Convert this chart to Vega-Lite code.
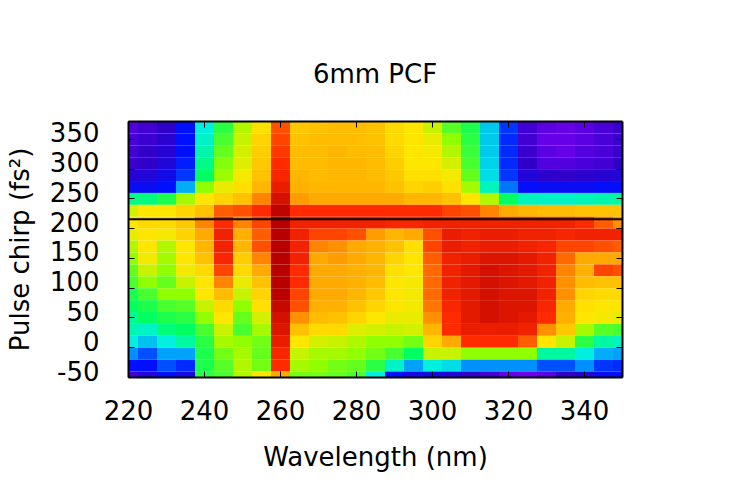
{
  "$schema": "https://vega.github.io/schema/vega-lite/v6.json",
  "width": 494,
  "height": 256,
  "autosize": {"type": "none"},
  "padding": {"left": 128, "top": 121, "right": 128, "bottom": 123},
  "background": "white",
  "config": {"view": {"stroke": null}, "font": "DejaVu Sans"},
  "title": {"text": "6mm PCF", "font": "DejaVu Sans", "fontSize": 26, "fontWeight": "normal", "color": "black", "anchor": "middle", "offset": 33},
  "layer": [
    {
      "data": {"values": [
        {"nm":217.5,"fs2":360,"z":0.6},{"nm":222.5,"fs2":360,"z":0.8},{"nm":227.5,"fs2":360,"z":1.0},{"nm":232.5,"fs2":360,"z":2.0},{"nm":237.5,"fs2":360,"z":4.0},{"nm":242.5,"fs2":360,"z":5.3},{"nm":247.5,"fs2":360,"z":6.3},{"nm":252.5,"fs2":360,"z":7.1},{"nm":257.5,"fs2":360,"z":8.7},{"nm":262.5,"fs2":360,"z":7.5},{"nm":267.5,"fs2":360,"z":7.6},{"nm":272.5,"fs2":360,"z":7.7},{"nm":277.5,"fs2":360,"z":7.7},{"nm":282.5,"fs2":360,"z":7.6},{"nm":287.5,"fs2":360,"z":7.2},{"nm":292.5,"fs2":360,"z":7.0},{"nm":297.5,"fs2":360,"z":6.5},{"nm":302.5,"fs2":360,"z":5.6},{"nm":307.5,"fs2":360,"z":5.2},{"nm":312.5,"fs2":360,"z":3.6},{"nm":317.5,"fs2":360,"z":2.3},{"nm":322.5,"fs2":360,"z":0.8},{"nm":327.5,"fs2":360,"z":0.5},{"nm":332.5,"fs2":360,"z":0.4},{"nm":337.5,"fs2":360,"z":0.5},{"nm":342.5,"fs2":360,"z":0.7},{"nm":347.5,"fs2":360,"z":0.9},
        {"nm":217.5,"fs2":340,"z":0.7},{"nm":222.5,"fs2":340,"z":0.9},{"nm":227.5,"fs2":340,"z":1.1},{"nm":232.5,"fs2":340,"z":2.0},{"nm":237.5,"fs2":340,"z":4.2},{"nm":242.5,"fs2":340,"z":5.5},{"nm":247.5,"fs2":340,"z":6.5},{"nm":252.5,"fs2":340,"z":7.3},{"nm":257.5,"fs2":340,"z":8.8},{"nm":262.5,"fs2":340,"z":7.6},{"nm":267.5,"fs2":340,"z":7.7},{"nm":272.5,"fs2":340,"z":7.7},{"nm":277.5,"fs2":340,"z":7.7},{"nm":282.5,"fs2":340,"z":7.6},{"nm":287.5,"fs2":340,"z":7.2},{"nm":292.5,"fs2":340,"z":7.0},{"nm":297.5,"fs2":340,"z":6.8},{"nm":302.5,"fs2":340,"z":6.0},{"nm":307.5,"fs2":340,"z":5.3},{"nm":312.5,"fs2":340,"z":3.6},{"nm":317.5,"fs2":340,"z":2.2},{"nm":322.5,"fs2":340,"z":0.8},{"nm":327.5,"fs2":340,"z":0.4},{"nm":332.5,"fs2":340,"z":0.4},{"nm":337.5,"fs2":340,"z":0.5},{"nm":342.5,"fs2":340,"z":0.7},{"nm":347.5,"fs2":340,"z":0.9},
        {"nm":217.5,"fs2":320,"z":0.8},{"nm":222.5,"fs2":320,"z":1.0},{"nm":227.5,"fs2":320,"z":1.2},{"nm":232.5,"fs2":320,"z":2.0},{"nm":237.5,"fs2":320,"z":4.4},{"nm":242.5,"fs2":320,"z":5.7},{"nm":247.5,"fs2":320,"z":6.6},{"nm":252.5,"fs2":320,"z":7.4},{"nm":257.5,"fs2":320,"z":8.9},{"nm":262.5,"fs2":320,"z":7.7},{"nm":267.5,"fs2":320,"z":7.7},{"nm":272.5,"fs2":320,"z":7.8},{"nm":277.5,"fs2":320,"z":7.7},{"nm":282.5,"fs2":320,"z":7.7},{"nm":287.5,"fs2":320,"z":7.3},{"nm":292.5,"fs2":320,"z":7.0},{"nm":297.5,"fs2":320,"z":6.9},{"nm":302.5,"fs2":320,"z":6.3},{"nm":307.5,"fs2":320,"z":5.4},{"nm":312.5,"fs2":320,"z":3.6},{"nm":317.5,"fs2":320,"z":2.2},{"nm":322.5,"fs2":320,"z":0.9},{"nm":327.5,"fs2":320,"z":0.5},{"nm":332.5,"fs2":320,"z":0.4},{"nm":337.5,"fs2":320,"z":0.6},{"nm":342.5,"fs2":320,"z":0.7},{"nm":347.5,"fs2":320,"z":0.9},
        {"nm":217.5,"fs2":300,"z":0.9},{"nm":222.5,"fs2":300,"z":1.0},{"nm":227.5,"fs2":300,"z":1.3},{"nm":232.5,"fs2":300,"z":2.1},{"nm":237.5,"fs2":300,"z":4.7},{"nm":242.5,"fs2":300,"z":5.9},{"nm":247.5,"fs2":300,"z":6.7},{"nm":252.5,"fs2":300,"z":7.5},{"nm":257.5,"fs2":300,"z":9.0},{"nm":262.5,"fs2":300,"z":7.7},{"nm":267.5,"fs2":300,"z":7.7},{"nm":272.5,"fs2":300,"z":7.8},{"nm":277.5,"fs2":300,"z":7.8},{"nm":282.5,"fs2":300,"z":7.7},{"nm":287.5,"fs2":300,"z":7.4},{"nm":292.5,"fs2":300,"z":7.0},{"nm":297.5,"fs2":300,"z":7.0},{"nm":302.5,"fs2":300,"z":6.6},{"nm":307.5,"fs2":300,"z":5.5},{"nm":312.5,"fs2":300,"z":3.7},{"nm":317.5,"fs2":300,"z":2.2},{"nm":322.5,"fs2":300,"z":1.0},{"nm":327.5,"fs2":300,"z":0.6},{"nm":332.5,"fs2":300,"z":0.6},{"nm":337.5,"fs2":300,"z":0.7},{"nm":342.5,"fs2":300,"z":0.8},{"nm":347.5,"fs2":300,"z":1.0},
        {"nm":217.5,"fs2":280,"z":1.2},{"nm":222.5,"fs2":280,"z":1.3},{"nm":227.5,"fs2":280,"z":1.6},{"nm":232.5,"fs2":280,"z":2.3},{"nm":237.5,"fs2":280,"z":5.0},{"nm":242.5,"fs2":280,"z":6.1},{"nm":247.5,"fs2":280,"z":6.9},{"nm":252.5,"fs2":280,"z":7.6},{"nm":257.5,"fs2":280,"z":9.1},{"nm":262.5,"fs2":280,"z":7.8},{"nm":267.5,"fs2":280,"z":7.7},{"nm":272.5,"fs2":280,"z":7.8},{"nm":277.5,"fs2":280,"z":7.8},{"nm":282.5,"fs2":280,"z":7.7},{"nm":287.5,"fs2":280,"z":7.5},{"nm":292.5,"fs2":280,"z":7.1},{"nm":297.5,"fs2":280,"z":7.1},{"nm":302.5,"fs2":280,"z":6.9},{"nm":307.5,"fs2":280,"z":5.7},{"nm":312.5,"fs2":280,"z":3.8},{"nm":317.5,"fs2":280,"z":2.3},{"nm":322.5,"fs2":280,"z":1.3},{"nm":327.5,"fs2":280,"z":1.1},{"nm":332.5,"fs2":280,"z":1.0},{"nm":337.5,"fs2":280,"z":1.1},{"nm":342.5,"fs2":280,"z":1.2},{"nm":347.5,"fs2":280,"z":1.3},
        {"nm":217.5,"fs2":260,"z":1.8},{"nm":222.5,"fs2":260,"z":1.8},{"nm":227.5,"fs2":260,"z":2.0},{"nm":232.5,"fs2":260,"z":3.3},{"nm":237.5,"fs2":260,"z":6.0},{"nm":242.5,"fs2":260,"z":6.8},{"nm":247.5,"fs2":260,"z":7.1},{"nm":252.5,"fs2":260,"z":7.8},{"nm":257.5,"fs2":260,"z":9.3},{"nm":262.5,"fs2":260,"z":7.9},{"nm":267.5,"fs2":260,"z":7.8},{"nm":272.5,"fs2":260,"z":7.8},{"nm":277.5,"fs2":260,"z":7.8},{"nm":282.5,"fs2":260,"z":7.8},{"nm":287.5,"fs2":260,"z":7.6},{"nm":292.5,"fs2":260,"z":7.3},{"nm":297.5,"fs2":260,"z":7.4},{"nm":302.5,"fs2":260,"z":7.1},{"nm":307.5,"fs2":260,"z":6.2},{"nm":312.5,"fs2":260,"z":4.3},{"nm":317.5,"fs2":260,"z":2.8},{"nm":322.5,"fs2":260,"z":1.9},{"nm":327.5,"fs2":260,"z":1.8},{"nm":332.5,"fs2":260,"z":1.8},{"nm":337.5,"fs2":260,"z":1.8},{"nm":342.5,"fs2":260,"z":1.9},{"nm":347.5,"fs2":260,"z":1.9},
        {"nm":217.5,"fs2":240,"z":4.7},{"nm":222.5,"fs2":240,"z":4.8},{"nm":227.5,"fs2":240,"z":5.2},{"nm":232.5,"fs2":240,"z":6.2},{"nm":237.5,"fs2":240,"z":7.0},{"nm":242.5,"fs2":240,"z":7.3},{"nm":247.5,"fs2":240,"z":7.6},{"nm":252.5,"fs2":240,"z":8.3},{"nm":257.5,"fs2":240,"z":9.6},{"nm":262.5,"fs2":240,"z":8.1},{"nm":267.5,"fs2":240,"z":8.0},{"nm":272.5,"fs2":240,"z":8.0},{"nm":277.5,"fs2":240,"z":8.0},{"nm":282.5,"fs2":240,"z":8.0},{"nm":287.5,"fs2":240,"z":8.0},{"nm":292.5,"fs2":240,"z":7.8},{"nm":297.5,"fs2":240,"z":7.8},{"nm":302.5,"fs2":240,"z":7.6},{"nm":307.5,"fs2":240,"z":7.0},{"nm":312.5,"fs2":240,"z":6.3},{"nm":317.5,"fs2":240,"z":5.0},{"nm":322.5,"fs2":240,"z":4.3},{"nm":327.5,"fs2":240,"z":4.2},{"nm":332.5,"fs2":240,"z":4.2},{"nm":337.5,"fs2":240,"z":4.3},{"nm":342.5,"fs2":240,"z":4.4},{"nm":347.5,"fs2":240,"z":4.5},
        {"nm":217.5,"fs2":220,"z":6.6},{"nm":222.5,"fs2":220,"z":7.0},{"nm":227.5,"fs2":220,"z":7.0},{"nm":232.5,"fs2":220,"z":7.3},{"nm":237.5,"fs2":220,"z":7.6},{"nm":242.5,"fs2":220,"z":8.6},{"nm":247.5,"fs2":220,"z":8.7},{"nm":252.5,"fs2":220,"z":9.0},{"nm":257.5,"fs2":220,"z":9.9},{"nm":262.5,"fs2":220,"z":9.0},{"nm":267.5,"fs2":220,"z":9.0},{"nm":272.5,"fs2":220,"z":9.0},{"nm":277.5,"fs2":220,"z":9.0},{"nm":282.5,"fs2":220,"z":9.0},{"nm":287.5,"fs2":220,"z":9.0},{"nm":292.5,"fs2":220,"z":9.0},{"nm":297.5,"fs2":220,"z":9.0},{"nm":302.5,"fs2":220,"z":8.8},{"nm":307.5,"fs2":220,"z":8.7},{"nm":312.5,"fs2":220,"z":8.3},{"nm":317.5,"fs2":220,"z":8.0},{"nm":322.5,"fs2":220,"z":7.8},{"nm":327.5,"fs2":220,"z":7.7},{"nm":332.5,"fs2":220,"z":7.7},{"nm":337.5,"fs2":220,"z":7.6},{"nm":342.5,"fs2":220,"z":7.6},{"nm":347.5,"fs2":220,"z":7.6},
        {"nm":217.5,"fs2":200,"z":7.0},{"nm":222.5,"fs2":200,"z":7.2},{"nm":227.5,"fs2":200,"z":7.2},{"nm":232.5,"fs2":200,"z":7.5},{"nm":237.5,"fs2":200,"z":8.3},{"nm":242.5,"fs2":200,"z":9.0},{"nm":247.5,"fs2":200,"z":8.3},{"nm":252.5,"fs2":200,"z":8.8},{"nm":257.5,"fs2":200,"z":10},{"nm":262.5,"fs2":200,"z":9.2},{"nm":267.5,"fs2":200,"z":9.2},{"nm":272.5,"fs2":200,"z":9.2},{"nm":277.5,"fs2":200,"z":9.2},{"nm":282.5,"fs2":200,"z":9.2},{"nm":287.5,"fs2":200,"z":9.1},{"nm":292.5,"fs2":200,"z":9.1},{"nm":297.5,"fs2":200,"z":9.2},{"nm":302.5,"fs2":200,"z":9.2},{"nm":307.5,"fs2":200,"z":9.2},{"nm":312.5,"fs2":200,"z":9.2},{"nm":317.5,"fs2":200,"z":9.2},{"nm":322.5,"fs2":200,"z":9.2},{"nm":327.5,"fs2":200,"z":9.2},{"nm":332.5,"fs2":200,"z":9.2},{"nm":337.5,"fs2":200,"z":9.0},{"nm":342.5,"fs2":200,"z":8.6},{"nm":347.5,"fs2":200,"z":8.2},
        {"nm":217.5,"fs2":180,"z":6.8},{"nm":222.5,"fs2":180,"z":7.0},{"nm":227.5,"fs2":180,"z":6.9},{"nm":232.5,"fs2":180,"z":7.3},{"nm":237.5,"fs2":180,"z":8.0},{"nm":242.5,"fs2":180,"z":9.2},{"nm":247.5,"fs2":180,"z":7.9},{"nm":252.5,"fs2":180,"z":8.6},{"nm":257.5,"fs2":180,"z":10},{"nm":262.5,"fs2":180,"z":9.2},{"nm":267.5,"fs2":180,"z":8.8},{"nm":272.5,"fs2":180,"z":8.8},{"nm":277.5,"fs2":180,"z":8.7},{"nm":282.5,"fs2":180,"z":8.1},{"nm":287.5,"fs2":180,"z":7.8},{"nm":292.5,"fs2":180,"z":8.0},{"nm":297.5,"fs2":180,"z":8.7},{"nm":302.5,"fs2":180,"z":9.3},{"nm":307.5,"fs2":180,"z":9.2},{"nm":312.5,"fs2":180,"z":9.3},{"nm":317.5,"fs2":180,"z":9.3},{"nm":322.5,"fs2":180,"z":9.2},{"nm":327.5,"fs2":180,"z":9.2},{"nm":332.5,"fs2":180,"z":9.1},{"nm":337.5,"fs2":180,"z":9.2},{"nm":342.5,"fs2":180,"z":9.2},{"nm":347.5,"fs2":180,"z":9.2},
        {"nm":217.5,"fs2":160,"z":6.3},{"nm":222.5,"fs2":160,"z":7.0},{"nm":227.5,"fs2":160,"z":6.3},{"nm":232.5,"fs2":160,"z":7.0},{"nm":237.5,"fs2":160,"z":7.8},{"nm":242.5,"fs2":160,"z":9.2},{"nm":247.5,"fs2":160,"z":7.8},{"nm":252.5,"fs2":160,"z":8.7},{"nm":257.5,"fs2":160,"z":10},{"nm":262.5,"fs2":160,"z":9.2},{"nm":267.5,"fs2":160,"z":8.3},{"nm":272.5,"fs2":160,"z":8.2},{"nm":277.5,"fs2":160,"z":8.0},{"nm":282.5,"fs2":160,"z":7.9},{"nm":287.5,"fs2":160,"z":7.6},{"nm":292.5,"fs2":160,"z":7.1},{"nm":297.5,"fs2":160,"z":8.8},{"nm":302.5,"fs2":160,"z":9.3},{"nm":307.5,"fs2":160,"z":9.2},{"nm":312.5,"fs2":160,"z":9.3},{"nm":317.5,"fs2":160,"z":9.3},{"nm":322.5,"fs2":160,"z":9.2},{"nm":327.5,"fs2":160,"z":9.1},{"nm":332.5,"fs2":160,"z":8.8},{"nm":337.5,"fs2":160,"z":8.8},{"nm":342.5,"fs2":160,"z":8.7},{"nm":347.5,"fs2":160,"z":8.6},
        {"nm":217.5,"fs2":140,"z":6.0},{"nm":222.5,"fs2":140,"z":6.9},{"nm":227.5,"fs2":140,"z":6.2},{"nm":232.5,"fs2":140,"z":7.0},{"nm":237.5,"fs2":140,"z":7.6},{"nm":242.5,"fs2":140,"z":9.1},{"nm":247.5,"fs2":140,"z":7.4},{"nm":252.5,"fs2":140,"z":8.3},{"nm":257.5,"fs2":140,"z":10},{"nm":262.5,"fs2":140,"z":9.2},{"nm":267.5,"fs2":140,"z":8.0},{"nm":272.5,"fs2":140,"z":8.1},{"nm":277.5,"fs2":140,"z":8.0},{"nm":282.5,"fs2":140,"z":7.8},{"nm":287.5,"fs2":140,"z":7.3},{"nm":292.5,"fs2":140,"z":7.0},{"nm":297.5,"fs2":140,"z":8.6},{"nm":302.5,"fs2":140,"z":9.2},{"nm":307.5,"fs2":140,"z":9.3},{"nm":312.5,"fs2":140,"z":9.5},{"nm":317.5,"fs2":140,"z":9.5},{"nm":322.5,"fs2":140,"z":9.4},{"nm":327.5,"fs2":140,"z":9.2},{"nm":332.5,"fs2":140,"z":8.5},{"nm":337.5,"fs2":140,"z":8.0},{"nm":342.5,"fs2":140,"z":8.0},{"nm":347.5,"fs2":140,"z":8.0},
        {"nm":217.5,"fs2":120,"z":5.7},{"nm":222.5,"fs2":120,"z":6.5},{"nm":227.5,"fs2":120,"z":6.0},{"nm":232.5,"fs2":120,"z":6.9},{"nm":237.5,"fs2":120,"z":7.2},{"nm":242.5,"fs2":120,"z":8.8},{"nm":247.5,"fs2":120,"z":7.2},{"nm":252.5,"fs2":120,"z":8.0},{"nm":257.5,"fs2":120,"z":10},{"nm":262.5,"fs2":120,"z":9.0},{"nm":267.5,"fs2":120,"z":8.0},{"nm":272.5,"fs2":120,"z":8.0},{"nm":277.5,"fs2":120,"z":7.9},{"nm":282.5,"fs2":120,"z":7.8},{"nm":287.5,"fs2":120,"z":7.1},{"nm":292.5,"fs2":120,"z":7.0},{"nm":297.5,"fs2":120,"z":8.5},{"nm":302.5,"fs2":120,"z":9.2},{"nm":307.5,"fs2":120,"z":9.4},{"nm":312.5,"fs2":120,"z":9.6},{"nm":317.5,"fs2":120,"z":9.5},{"nm":322.5,"fs2":120,"z":9.4},{"nm":327.5,"fs2":120,"z":9.2},{"nm":332.5,"fs2":120,"z":8.3},{"nm":337.5,"fs2":120,"z":7.9},{"nm":342.5,"fs2":120,"z":8.8},{"nm":347.5,"fs2":120,"z":8.7},
        {"nm":217.5,"fs2":100,"z":5.5},{"nm":222.5,"fs2":100,"z":6.0},{"nm":227.5,"fs2":100,"z":5.7},{"nm":232.5,"fs2":100,"z":6.5},{"nm":237.5,"fs2":100,"z":7.0},{"nm":242.5,"fs2":100,"z":8.3},{"nm":247.5,"fs2":100,"z":6.8},{"nm":252.5,"fs2":100,"z":7.6},{"nm":257.5,"fs2":100,"z":10},{"nm":262.5,"fs2":100,"z":9.0},{"nm":267.5,"fs2":100,"z":8.0},{"nm":272.5,"fs2":100,"z":8.0},{"nm":277.5,"fs2":100,"z":7.9},{"nm":282.5,"fs2":100,"z":7.7},{"nm":287.5,"fs2":100,"z":7.0},{"nm":292.5,"fs2":100,"z":6.9},{"nm":297.5,"fs2":100,"z":8.5},{"nm":302.5,"fs2":100,"z":9.2},{"nm":307.5,"fs2":100,"z":9.4},{"nm":312.5,"fs2":100,"z":9.6},{"nm":317.5,"fs2":100,"z":9.5},{"nm":322.5,"fs2":100,"z":9.4},{"nm":327.5,"fs2":100,"z":9.2},{"nm":332.5,"fs2":100,"z":8.2},{"nm":337.5,"fs2":100,"z":7.7},{"nm":342.5,"fs2":100,"z":7.6},{"nm":347.5,"fs2":100,"z":7.6},
        {"nm":217.5,"fs2":80,"z":5.2},{"nm":222.5,"fs2":80,"z":5.5},{"nm":227.5,"fs2":80,"z":6.0},{"nm":232.5,"fs2":80,"z":6.0},{"nm":237.5,"fs2":80,"z":7.0},{"nm":242.5,"fs2":80,"z":7.7},{"nm":247.5,"fs2":80,"z":6.5},{"nm":252.5,"fs2":80,"z":7.3},{"nm":257.5,"fs2":80,"z":10},{"nm":262.5,"fs2":80,"z":8.8},{"nm":267.5,"fs2":80,"z":8.0},{"nm":272.5,"fs2":80,"z":8.0},{"nm":277.5,"fs2":80,"z":7.8},{"nm":282.5,"fs2":80,"z":7.5},{"nm":287.5,"fs2":80,"z":7.0},{"nm":292.5,"fs2":80,"z":6.9},{"nm":297.5,"fs2":80,"z":8.5},{"nm":302.5,"fs2":80,"z":9.2},{"nm":307.5,"fs2":80,"z":9.4},{"nm":312.5,"fs2":80,"z":9.6},{"nm":317.5,"fs2":80,"z":9.5},{"nm":322.5,"fs2":80,"z":9.5},{"nm":327.5,"fs2":80,"z":9.2},{"nm":332.5,"fs2":80,"z":8.2},{"nm":337.5,"fs2":80,"z":7.3},{"nm":342.5,"fs2":80,"z":7.2},{"nm":347.5,"fs2":80,"z":7.2},
        {"nm":217.5,"fs2":60,"z":5.0},{"nm":222.5,"fs2":60,"z":5.2},{"nm":227.5,"fs2":60,"z":5.5},{"nm":232.5,"fs2":60,"z":5.6},{"nm":237.5,"fs2":60,"z":6.5},{"nm":242.5,"fs2":60,"z":7.2},{"nm":247.5,"fs2":60,"z":6.0},{"nm":252.5,"fs2":60,"z":7.1},{"nm":257.5,"fs2":60,"z":9.8},{"nm":262.5,"fs2":60,"z":8.7},{"nm":267.5,"fs2":60,"z":7.9},{"nm":272.5,"fs2":60,"z":7.9},{"nm":277.5,"fs2":60,"z":7.6},{"nm":282.5,"fs2":60,"z":7.3},{"nm":287.5,"fs2":60,"z":7.0},{"nm":292.5,"fs2":60,"z":6.9},{"nm":297.5,"fs2":60,"z":8.4},{"nm":302.5,"fs2":60,"z":9.1},{"nm":307.5,"fs2":60,"z":9.4},{"nm":312.5,"fs2":60,"z":9.6},{"nm":317.5,"fs2":60,"z":9.5},{"nm":322.5,"fs2":60,"z":9.5},{"nm":327.5,"fs2":60,"z":9.1},{"nm":332.5,"fs2":60,"z":8.0},{"nm":337.5,"fs2":60,"z":7.1},{"nm":342.5,"fs2":60,"z":7.0},{"nm":347.5,"fs2":60,"z":7.0},
        {"nm":217.5,"fs2":40,"z":4.6},{"nm":222.5,"fs2":40,"z":5.0},{"nm":227.5,"fs2":40,"z":5.2},{"nm":232.5,"fs2":40,"z":5.3},{"nm":237.5,"fs2":40,"z":6.0},{"nm":242.5,"fs2":40,"z":7.0},{"nm":247.5,"fs2":40,"z":5.7},{"nm":252.5,"fs2":40,"z":6.6},{"nm":257.5,"fs2":40,"z":9.6},{"nm":262.5,"fs2":40,"z":8.2},{"nm":267.5,"fs2":40,"z":7.7},{"nm":272.5,"fs2":40,"z":7.6},{"nm":277.5,"fs2":40,"z":7.3},{"nm":282.5,"fs2":40,"z":7.0},{"nm":287.5,"fs2":40,"z":6.8},{"nm":292.5,"fs2":40,"z":6.8},{"nm":297.5,"fs2":40,"z":8.2},{"nm":302.5,"fs2":40,"z":9.0},{"nm":307.5,"fs2":40,"z":9.4},{"nm":312.5,"fs2":40,"z":9.6},{"nm":317.5,"fs2":40,"z":9.5},{"nm":322.5,"fs2":40,"z":9.4},{"nm":327.5,"fs2":40,"z":9.0},{"nm":332.5,"fs2":40,"z":7.9},{"nm":337.5,"fs2":40,"z":7.0},{"nm":342.5,"fs2":40,"z":6.9},{"nm":347.5,"fs2":40,"z":6.8},
        {"nm":217.5,"fs2":20,"z":4.4},{"nm":222.5,"fs2":20,"z":4.2},{"nm":227.5,"fs2":20,"z":4.8},{"nm":232.5,"fs2":20,"z":5.0},{"nm":237.5,"fs2":20,"z":5.5},{"nm":242.5,"fs2":20,"z":6.5},{"nm":247.5,"fs2":20,"z":5.5},{"nm":252.5,"fs2":20,"z":6.2},{"nm":257.5,"fs2":20,"z":9.5},{"nm":262.5,"fs2":20,"z":7.6},{"nm":267.5,"fs2":20,"z":7.2},{"nm":272.5,"fs2":20,"z":7.2},{"nm":277.5,"fs2":20,"z":6.7},{"nm":282.5,"fs2":20,"z":6.6},{"nm":287.5,"fs2":20,"z":6.5},{"nm":292.5,"fs2":20,"z":6.6},{"nm":297.5,"fs2":20,"z":7.8},{"nm":302.5,"fs2":20,"z":9.0},{"nm":307.5,"fs2":20,"z":9.3},{"nm":312.5,"fs2":20,"z":9.3},{"nm":317.5,"fs2":20,"z":9.3},{"nm":322.5,"fs2":20,"z":9.2},{"nm":327.5,"fs2":20,"z":8.2},{"nm":332.5,"fs2":20,"z":7.5},{"nm":337.5,"fs2":20,"z":6.2},{"nm":342.5,"fs2":20,"z":5.6},{"nm":347.5,"fs2":20,"z":5.5},
        {"nm":217.5,"fs2":0,"z":4.0},{"nm":222.5,"fs2":0,"z":3.5},{"nm":227.5,"fs2":0,"z":4.0},{"nm":232.5,"fs2":0,"z":4.5},{"nm":237.5,"fs2":0,"z":5.3},{"nm":242.5,"fs2":0,"z":6.2},{"nm":247.5,"fs2":0,"z":6.0},{"nm":252.5,"fs2":0,"z":5.8},{"nm":257.5,"fs2":0,"z":9.3},{"nm":262.5,"fs2":0,"z":7.0},{"nm":267.5,"fs2":0,"z":6.6},{"nm":272.5,"fs2":0,"z":6.5},{"nm":277.5,"fs2":0,"z":6.3},{"nm":282.5,"fs2":0,"z":6.0},{"nm":287.5,"fs2":0,"z":6.0},{"nm":292.5,"fs2":0,"z":5.8},{"nm":297.5,"fs2":0,"z":7.3},{"nm":302.5,"fs2":0,"z":8.0},{"nm":307.5,"fs2":0,"z":9.0},{"nm":312.5,"fs2":0,"z":9.0},{"nm":317.5,"fs2":0,"z":9.0},{"nm":322.5,"fs2":0,"z":8.6},{"nm":327.5,"fs2":0,"z":7.0},{"nm":332.5,"fs2":0,"z":6.5},{"nm":337.5,"fs2":0,"z":5.3},{"nm":342.5,"fs2":0,"z":4.5},{"nm":347.5,"fs2":0,"z":4.2},
        {"nm":217.5,"fs2":-20,"z":3.0},{"nm":222.5,"fs2":-20,"z":2.5},{"nm":227.5,"fs2":-20,"z":3.2},{"nm":232.5,"fs2":-20,"z":3.2},{"nm":237.5,"fs2":-20,"z":5.2},{"nm":242.5,"fs2":-20,"z":5.8},{"nm":247.5,"fs2":-20,"z":6.2},{"nm":252.5,"fs2":-20,"z":5.7},{"nm":257.5,"fs2":-20,"z":9.1},{"nm":262.5,"fs2":-20,"z":6.5},{"nm":267.5,"fs2":-20,"z":6.2},{"nm":272.5,"fs2":-20,"z":6.2},{"nm":277.5,"fs2":-20,"z":6.0},{"nm":282.5,"fs2":-20,"z":5.8},{"nm":287.5,"fs2":-20,"z":5.5},{"nm":292.5,"fs2":-20,"z":5.0},{"nm":297.5,"fs2":-20,"z":6.5},{"nm":302.5,"fs2":-20,"z":6.5},{"nm":307.5,"fs2":-20,"z":6.0},{"nm":312.5,"fs2":-20,"z":6.0},{"nm":317.5,"fs2":-20,"z":6.0},{"nm":322.5,"fs2":-20,"z":6.0},{"nm":327.5,"fs2":-20,"z":4.5},{"nm":332.5,"fs2":-20,"z":4.5},{"nm":337.5,"fs2":-20,"z":4.0},{"nm":342.5,"fs2":-20,"z":3.3},{"nm":347.5,"fs2":-20,"z":3.2},
        {"nm":217.5,"fs2":-40,"z":2.0},{"nm":222.5,"fs2":-40,"z":2.0},{"nm":227.5,"fs2":-40,"z":2.5},{"nm":232.5,"fs2":-40,"z":2.2},{"nm":237.5,"fs2":-40,"z":5.2},{"nm":242.5,"fs2":-40,"z":5.6},{"nm":247.5,"fs2":-40,"z":6.3},{"nm":252.5,"fs2":-40,"z":5.8},{"nm":257.5,"fs2":-40,"z":9.0},{"nm":262.5,"fs2":-40,"z":6.2},{"nm":267.5,"fs2":-40,"z":6.0},{"nm":272.5,"fs2":-40,"z":5.8},{"nm":277.5,"fs2":-40,"z":5.7},{"nm":282.5,"fs2":-40,"z":5.3},{"nm":287.5,"fs2":-40,"z":4.2},{"nm":292.5,"fs2":-40,"z":3.2},{"nm":297.5,"fs2":-40,"z":4.0},{"nm":302.5,"fs2":-40,"z":3.8},{"nm":307.5,"fs2":-40,"z":3.0},{"nm":312.5,"fs2":-40,"z":3.0},{"nm":317.5,"fs2":-40,"z":3.0},{"nm":322.5,"fs2":-40,"z":3.0},{"nm":327.5,"fs2":-40,"z":2.5},{"nm":332.5,"fs2":-40,"z":2.5},{"nm":337.5,"fs2":-40,"z":3.0},{"nm":342.5,"fs2":-40,"z":2.3},{"nm":347.5,"fs2":-40,"z":2.2},
        {"nm":217.5,"fs2":-60,"z":0.8},{"nm":222.5,"fs2":-60,"z":1.3},{"nm":227.5,"fs2":-60,"z":2.0},{"nm":232.5,"fs2":-60,"z":1.5},{"nm":237.5,"fs2":-60,"z":5.3},{"nm":242.5,"fs2":-60,"z":5.5},{"nm":247.5,"fs2":-60,"z":6.3},{"nm":252.5,"fs2":-60,"z":7.0},{"nm":257.5,"fs2":-60,"z":8.0},{"nm":262.5,"fs2":-60,"z":5.8},{"nm":267.5,"fs2":-60,"z":5.8},{"nm":272.5,"fs2":-60,"z":5.7},{"nm":277.5,"fs2":-60,"z":5.5},{"nm":282.5,"fs2":-60,"z":4.0},{"nm":287.5,"fs2":-60,"z":2.0},{"nm":292.5,"fs2":-60,"z":1.5},{"nm":297.5,"fs2":-60,"z":1.5},{"nm":302.5,"fs2":-60,"z":1.3},{"nm":307.5,"fs2":-60,"z":1.0},{"nm":312.5,"fs2":-60,"z":0.8},{"nm":317.5,"fs2":-60,"z":0.4},{"nm":322.5,"fs2":-60,"z":0.3},{"nm":327.5,"fs2":-60,"z":0.5},{"nm":332.5,"fs2":-60,"z":1.0},{"nm":337.5,"fs2":-60,"z":1.2},{"nm":342.5,"fs2":-60,"z":1.8},{"nm":347.5,"fs2":-60,"z":2.0}
      ]},
      "mark": {"type": "rect", "clip": true},
      "encoding": {
        "x": {
          "field": "nm", "type": "quantitative",
          "bin": {"binned": true, "step": 5},
          "scale": {"domain": [220, 350], "nice": false, "zero": false},
          "axis": {
            "orient": "bottom", "values": [220, 240, 260, 280, 300, 320, 340], "labelExpr": "'' + datum.value",
            "title": "Wavelength (nm)", "titleFontSize": 26, "titleFontWeight": "normal", "titleColor": "black", "titlePadding": 20,
            "labelFontSize": 26, "labelColor": "black", "labelPadding": 27, "labelFlush": false, "labelOverlap": false,
            "tickSize": -6, "tickColor": "black", "tickWidth": 1,
            "domainColor": "black", "domainWidth": 2, "grid": false, "zindex": 1
          }
        },
        "y": {
          "field": "fs2", "type": "quantitative",
          "bin": {"binned": true, "step": 20},
          "scale": {"domain": [-50, 380], "nice": false, "zero": false},
          "axis": {
            "orient": "left", "values": [-50, 0, 50, 100, 150, 200, 250, 300, 350], "labelExpr": "'' + datum.value",
            "title": "Pulse chirp (fs²)", "titleFontSize": 26, "titleFontWeight": "normal", "titleColor": "black", "titlePadding": 16,
            "labelFontSize": 26, "labelColor": "black", "labelPadding": 35, "labelOffset": -5, "labelFlush": false, "labelOverlap": false,
            "tickSize": -6, "tickColor": "black", "tickWidth": 1,
            "domainColor": "black", "domainWidth": 2, "grid": false, "zindex": 1
          }
        },
        "color": {
          "field": "z", "type": "quantitative", "legend": null,
          "scale": {
            "domain": [0, 1, 2, 3, 4, 5, 6, 7, 8, 9, 10],
            "range": ["#8800ff", "#3000c8", "#0010ff", "#0090ff", "#00f0e0", "#00ff60", "#90ff00", "#ffe600", "#ffaa00", "#ff2a00", "#b80000"],
            "interpolate": "rgb"
          }
        }
      }
    },
    {
      "data": {"values": [{"level": 215}]},
      "mark": {"type": "rule", "color": "black", "strokeWidth": 2},
      "encoding": {
        "y": {
          "field": "level", "type": "quantitative",
          "axis": {
            "orient": "right", "values": [-50, 0, 50, 100, 150, 200, 250, 300, 350], "labels": false, "title": null,
            "tickSize": -6, "tickColor": "black", "tickWidth": 1,
            "domainColor": "black", "domainWidth": 2, "grid": false, "zindex": 1
          }
        },
        "x": {
          "datum": 220, "type": "quantitative",
          "axis": {
            "orient": "top", "values": [220, 240, 260, 280, 300, 320, 340], "labels": false, "title": null,
            "tickSize": -6, "tickColor": "black", "tickWidth": 1,
            "domainColor": "black", "domainWidth": 2, "grid": false, "zindex": 1
          }
        },
        "x2": {"datum": 350}
      }
    }
  ],
  "resolve": {"axis": {"x": "independent", "y": "independent"}}
}
